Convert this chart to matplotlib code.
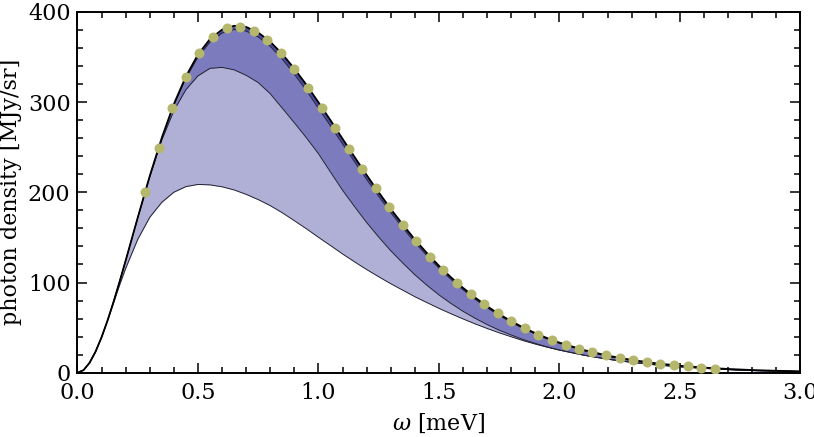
import numpy as np
import matplotlib.pyplot as plt
from matplotlib.ticker import MultipleLocator


# -------- DATA --------
# curve grid (meV)
omega = [0.000, 0.025, 0.050, 0.075, 0.100, 0.125, 0.150, 0.175, 0.20, 0.25,
         0.30, 0.35, 0.40, 0.45, 0.50, 0.55, 0.60, 0.65, 0.70, 0.75,
         0.80, 0.85, 0.90, 0.95, 1.00, 1.05, 1.10, 1.15, 1.20, 1.25,
         1.30, 1.35, 1.40, 1.45, 1.50, 1.55, 1.60, 1.65, 1.70, 1.75,
         1.80, 1.85, 1.90, 1.95, 2.00, 2.10, 2.20, 2.30, 2.40, 2.50,
         2.60, 2.70, 2.80, 2.90, 3.00]

# outer curve (black)
top = [0.0, 2.9, 11.0, 23.4, 39.4, 58.1, 78.9, 101.2, 124.4, 171.9,
       218.1, 260.5, 297.8, 328.5, 352.6, 369.8, 380.2, 384.5, 383.2, 377.0,
       366.8, 353.2, 337.0, 319.1, 299.7, 279.8, 259.3, 239.1, 219.1, 200.0,
       181.5, 164.3, 147.7, 132.7, 118.6, 105.8, 94.1, 83.4, 73.7, 65.0,
       57.2, 50.1, 43.9, 38.3, 33.4, 25.3, 19.0, 14.2, 10.5, 7.8,
       5.7, 4.2, 3.0, 2.2, 1.6]

# inner edge of the thin dark band
upper = [0.0, 2.9, 11.0, 23.4, 39.4, 58.1, 78.9, 101.2, 124.4, 171.9,
         218.0, 259.5, 296.3, 326.4, 349.8, 366.5, 376.4, 380.3, 378.6, 372.1,
         361.7, 347.5, 330.9, 312.7, 293.1, 273.6, 253.6, 233.8, 214.3, 195.6,
         177.5, 160.7, 144.4, 129.8, 116.0, 103.5, 92.0, 81.5, 72.0, 63.5,
         55.9, 49.0, 42.9, 37.4, 32.6, 24.4, 18.1, 13.3, 9.6, 6.9,
         4.9, 3.5, 2.4, 1.7, 1.2]

# middle curve
middle = [0.0, 2.9, 11.0, 23.4, 39.4, 58.1, 78.9, 101.2, 124.3, 171.5,
          217.0, 257.9, 290.4, 313.7, 329.0, 337.3, 338.4, 335.7, 329.6, 321.6,
          309.2, 293.2, 277.0, 260.4, 242.8, 222.4, 202.3, 184.1, 166.5, 150.4,
          135.2, 121.6, 108.6, 97.0, 86.3, 76.8, 68.1, 60.4, 53.4, 47.2,
          41.8, 36.8, 32.5, 28.6, 25.2, 19.6, 15.1, 11.6, 8.8, 6.7,
          5.0, 3.7, 2.7, 2.0, 1.5]

# lowest curve
lower = [0.0, 2.9, 11.0, 23.4, 39.4, 57.9, 77.7, 97.3, 115.7, 147.8,
         172.3, 188.9, 200.1, 206.3, 208.7, 208.2, 206.1, 202.6, 197.7, 191.9,
         185.2, 177.3, 168.5, 159.6, 150.1, 141.0, 131.7, 122.9, 114.4, 106.4,
         98.7, 91.5, 84.3, 77.8, 71.4, 65.4, 59.7, 54.2, 49.1, 44.3,
         39.9, 35.6, 31.8, 28.3, 25.1, 19.5, 15.0, 11.5, 8.7, 6.6,
         4.9, 3.6, 2.6, 1.9, 1.4]

# measured points
data_omega = [0.281, 0.337, 0.394, 0.450, 0.506, 0.563, 0.619, 0.676, 0.731, 0.787,
              0.844, 0.900, 0.956, 1.013, 1.069, 1.126, 1.182, 1.237, 1.294, 1.350,
              1.406, 1.463, 1.519, 1.576, 1.632, 1.687, 1.744, 1.800, 1.856, 1.913,
              1.969, 2.026, 2.082, 2.137, 2.194, 2.250, 2.307, 2.363, 2.419, 2.476,
              2.532, 2.587, 2.644]
data_val = [200.7, 249.5, 293.0, 327.8, 354.1, 372.1, 381.5, 383.5, 378.9, 368.8,
            354.1, 336.3, 316.1, 293.9, 271.4, 248.2, 225.9, 204.3, 183.3, 163.8,
            145.8, 128.8, 113.6, 99.5, 87.0, 75.9, 65.8, 57.0, 49.2, 42.3,
            36.4, 31.1, 26.6, 22.6, 19.3, 16.4, 13.8, 11.7, 9.9, 8.4,
            7.1, 5.8, 4.5]


# -------- STYLE --------
plt.rcParams['font.family'] = ['DejaVu Serif']
plt.rcParams['mathtext.fontset'] = 'dejavuserif'

fig = plt.figure(figsize=(8.14, 4.37), dpi=100)
ax = fig.add_axes([0.0952, 0.147, 0.888, 0.826])


# -------- BANDS --------
ax.fill_between(omega, lower, middle, color='#b0b0d7', lw=0)
ax.fill_between(omega, middle, upper, color='#7b7bbd', lw=0)
ax.fill_between(omega, upper, top, color='#4b4ba2', lw=0)

ax.plot(omega, lower, color='#222233', lw=0.7)
ax.plot(omega, middle, color='#222233', lw=0.7)
ax.plot(omega, upper, color='#222233', lw=0.7)
ax.plot(omega, top, color='black', lw=1.3)

ax.plot(data_omega, data_val, 'o', color='#b5b76c', ms=7.2, mec='none', zorder=5)


# -------- AXES --------
ax.set_xlim(0, 3.0)
ax.set_ylim(0, 400)

ax.xaxis.set_major_locator(MultipleLocator(0.5))
ax.xaxis.set_minor_locator(MultipleLocator(0.1))
ax.yaxis.set_major_locator(MultipleLocator(100))
ax.yaxis.set_minor_locator(MultipleLocator(20))
ax.xaxis.set_major_formatter(plt.FuncFormatter(lambda v, p: f"{v:.1f}"))

ax.tick_params(which='both', direction='in', top=True, right=True,
               labelsize=16, width=1.1)
ax.tick_params(axis='x', pad=7)
ax.tick_params(axis='y', pad=5)
ax.tick_params(which='major', length=7)
ax.tick_params(which='minor', length=4)

for s in ax.spines.values():
    s.set_linewidth(1.4)

ax.set_xlabel(r"$\omega$ [meV]", fontsize=16, labelpad=5)
ax.set_ylabel("photon density [MJy/sr]", fontsize=16, labelpad=4)

fig.savefig("out.png", dpi=100)
